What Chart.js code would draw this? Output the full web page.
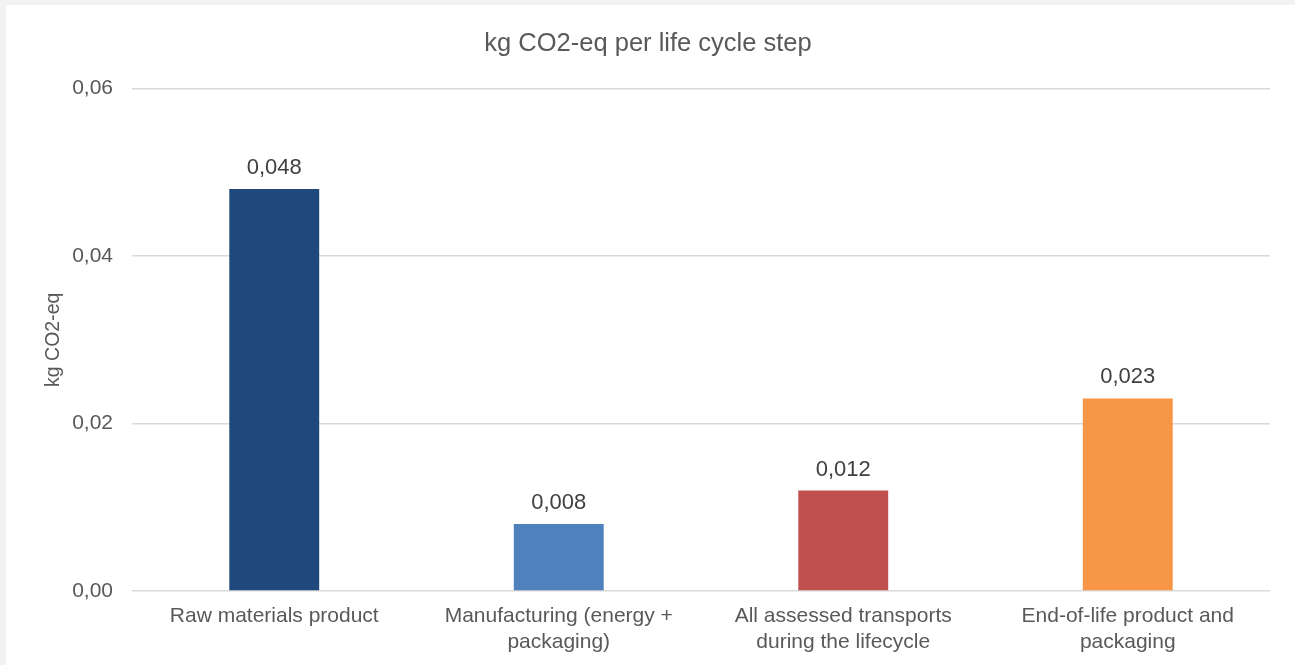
<!DOCTYPE html>
<html>
<head>
<meta charset="utf-8">
<script src="https://cdn.jsdelivr.net/npm/chart.js@4.4.0/dist/chart.umd.min.js"></script>
<style>
  html, body { margin: 0; padding: 0; background: #f2f2f2; }
  #marco { position: absolute; left: 6px; top: 5px; width: 1289px; height: 660px; background: #ffffff; }
</style>
</head>
<body>
<div id="marco"><canvas id="grafico"></canvas></div>
<script>
// datos
var categorias = [
  ["Raw materials product"],
  ["Manufacturing (energy +", "packaging)"],
  ["All assessed transports", "during the lifecycle"],
  ["End-of-life product and", "packaging"]
];
var valores = [0.048, 0.008, 0.012, 0.023];
var colores = ["#1F497D", "#4F81BD", "#C0504D", "#F79646"];
var ticksY = [0, 0.02, 0.04, 0.06];
var titulo = "kg CO2-eq per life cycle step";
var tituloEjeY = "kg CO2-eq";

var colorTexto = "#595959";
var fuente = "'Liberation Sans', Arial, sans-serif";

// plugin sencillo para escribir el valor sobre cada barra
var etiquetasBarras = {
  id: "etiquetasBarras",
  afterDatasetsDraw: function(chart) {
    var ctx = chart.ctx;
    var meta = chart.getDatasetMeta(0);
    ctx.save();
    ctx.font = "22px " + fuente;
    ctx.fillStyle = "#404040";
    ctx.textAlign = "center";
    ctx.textBaseline = "bottom";
    meta.data.forEach(function(barra, i) {
      var texto = valores[i].toFixed(3).replace(".", ",");
      ctx.fillText(texto, barra.x, barra.y - 10);
    });
    ctx.restore();
  }
};

var ctx = document.getElementById("grafico").getContext("2d");
var grafico = new Chart(ctx, {
  type: "bar",
  data: {
    labels: categorias,
    datasets: [{
      data: valores,
      backgroundColor: colores,
      borderWidth: 0,
      categoryPercentage: 1,
      barPercentage: 0.316
    }]
  },
  options: {
    responsive: true,
    maintainAspectRatio: false,
    animation: false,
    layout: { padding: { left: 20, right: 25, top: 0, bottom: 0 } },
    plugins: {
      legend: { display: false },
      tooltip: { enabled: false },
      title: {
        display: true,
        text: titulo,
        color: colorTexto,
        font: { family: fuente, size: 25.5, weight: "normal" },
        padding: { top: 24, bottom: 29 }
      }
    },
    scales: {
      x: {
        grid: { display: false, drawTicks: false },
        border: { display: false },
        ticks: {
          color: colorTexto,
          font: { family: fuente, size: 21 },
          padding: 13,
          maxRotation: 0,
          autoSkip: false
        },
        afterFit: function(eje) { eje.height = 74; }
      },
      y: {
        min: 0,
        max: 0.06,
        afterBuildTicks: function(eje) {
          eje.ticks = ticksY.map(function(v) { return { value: v }; });
        },
        grid: { color: "#d9d9d9", lineWidth: 1.5, drawTicks: false },
        border: { display: false },
        ticks: {
          color: colorTexto,
          font: { family: fuente, size: 21 },
          padding: 19,
          callback: function(v) { return Number(v).toFixed(2).replace(".", ","); }
        },
        title: {
          display: true,
          text: tituloEjeY,
          color: colorTexto,
          font: { family: fuente, size: 19.5 },
          padding: { top: 16, bottom: 0 }
        },
        afterFit: function(eje) { eje.width = 106; }
      }
    }
  },
  plugins: [etiquetasBarras]
});
</script>
</body>
</html>
